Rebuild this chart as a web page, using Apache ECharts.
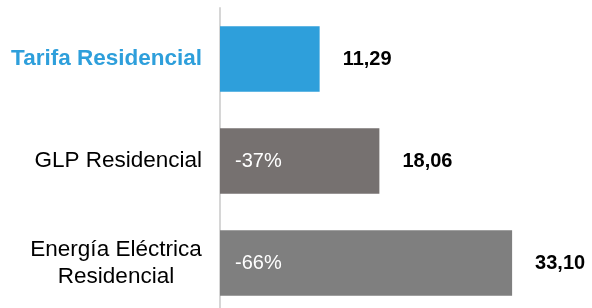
<!DOCTYPE html>
<html>
<head>
<meta charset="utf-8">
<script src="https://cdn.jsdelivr.net/npm/echarts@6/dist/echarts.min.js"></script>
<style>
  html, body { margin: 0; padding: 0; background: #fff; }
  #chart { width: 592px; height: 308px; }
</style>
</head>
<body>
<div id="chart"></div>
<script>
// datos
var categories = ["Tarifa Residencial", "GLP Residencial", "Energía Eléctrica\nResidencial"];
var values = [11.29, 18.06, 33.10];
var diffLabels = ["", "-37%", "-66%"];
var barColors = ["#2E9FDB", "#767170", "#7F7F7F"];

var myChart = echarts.init(document.getElementById("chart"));
var font = "'Liberation Sans', Arial, sans-serif";

var option = {
    animation: false,
    grid: {
        top: 8,
        left: 220,
        width: 353,
        height: 306,
        containLabel: false,
        outerBoundsMode: "none"
    },
    xAxis: {
        type: "value",
        min: 0,
        max: 40,
        show: false
    },
    yAxis: {
        type: "category",
        inverse: true,
        data: categories,
        axisLine: { show: true, lineStyle: { color: "#d6d6d6", width: 2 } },
        axisTick: { show: false },
        axisLabel: {
            margin: 18,
            fontFamily: font,
            fontSize: 22.5,
            color: "#000",
            formatter: function (v, i) {
                if (i === 0) return "{b|" + v + "}";
                var lines = v.split("\n");
                if (lines.length > 1) {
                    return lines.map(function (l) { return "{c|" + l + "}"; }).join("\n");
                }
                return v;
            },
            rich: {
                b: { fontFamily: font, fontSize: 22.5, fontWeight: "bold", color: "#2E9FDB" },
                c: { fontFamily: font, fontSize: 22.5, color: "#000", width: 172, align: "center", lineHeight: 27 }
            }
        }
    },
    series: [
        {
            type: "bar",
            barWidth: "64%",
            data: values.map(function (v, i) {
                return { value: v, itemStyle: { color: barColors[i] } };
            }),
            label: {
                show: true,
                position: "insideLeft",
                distance: 15,
                fontFamily: font,
                fontSize: 20,
                color: "#fff",
                formatter: function (p) { return diffLabels[p.dataIndex]; }
            }
        },
        {
            type: "bar",
            barWidth: "64%",
            barGap: "-100%",
            data: values,
            itemStyle: { color: "rgba(0,0,0,0)" },
            label: {
                show: true,
                position: "right",
                distance: 23,
                fontFamily: font,
                fontSize: 20,
                fontWeight: "bold",
                color: "#000",
                formatter: function (p) { return p.value.toFixed(2).replace(".", ","); }
            }
        }
    ]
};
myChart.setOption(option);
</script>
</body>
</html>
